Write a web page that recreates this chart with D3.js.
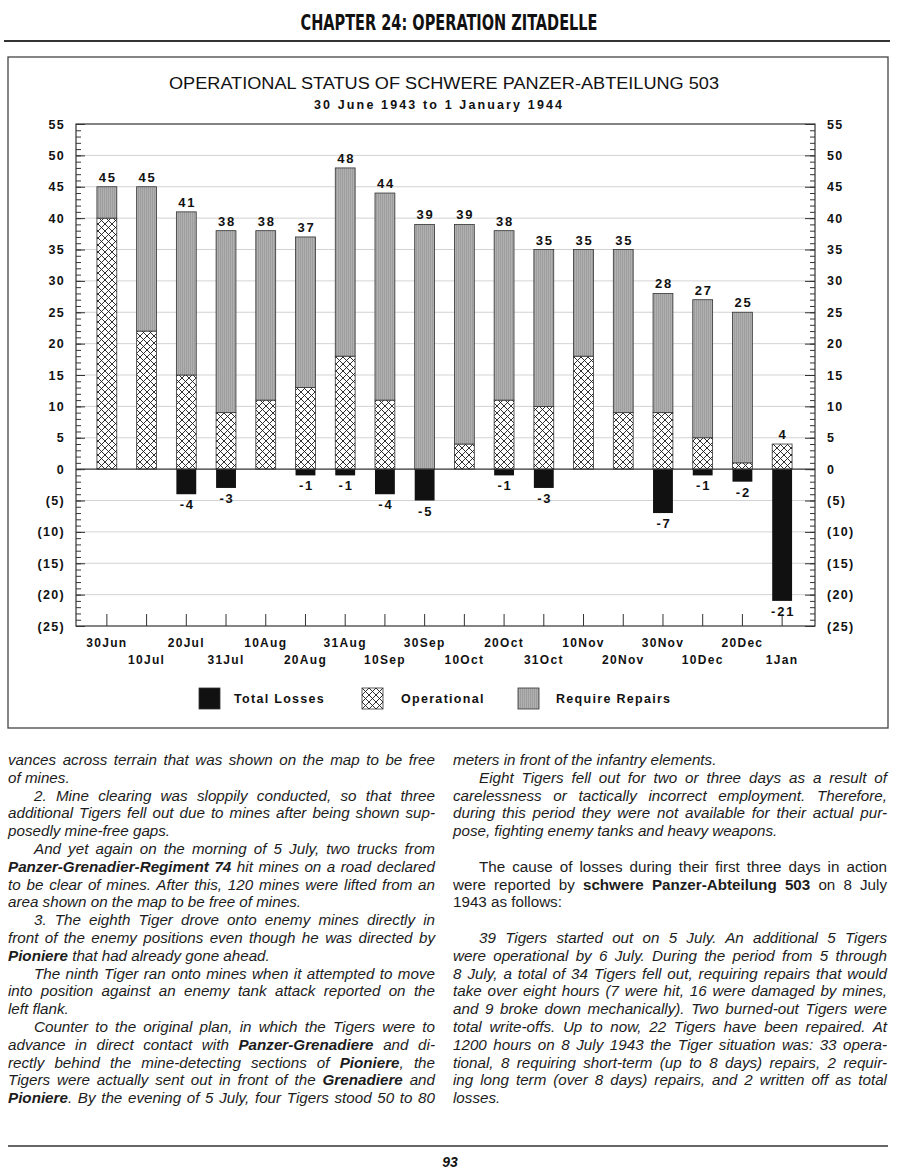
<!DOCTYPE html>
<html>
<head>
<meta charset="utf-8">
<script src="https://cdn.jsdelivr.net/npm/d3@7.9.0/dist/d3.min.js"></script>
<style>
  body { margin: 0; background: #fff; }
  svg { display: block; }
</style>
</head>
<body>
<svg id="page" width="901" height="1176"></svg>
<script>
// Chart data
const dates = ['30Jun', '10Jul', '20Jul', '31Jul', '10Aug', '20Aug', '31Aug', '10Sep', '30Sep',
  '10Oct', '20Oct', '31Oct', '10Nov', '20Nov', '30Nov', '10Dec', '20Dec', '1Jan'];
const operational = [40, 22, 15, 9, 11, 13, 18, 11, 0, 4, 11, 10, 18, 9, 9, 5, 1, 4];
const repairs = [5, 23, 26, 29, 27, 24, 30, 33, 39, 35, 27, 25, 17, 26, 19, 22, 24, 0];
const losses = [0, 0, -4, -3, 0, -1, -1, -4, -5, 0, -1, -3, 0, 0, -7, -1, -2, -21];
const yTicks = [-25, -20, -15, -10, -5, 0, 5, 10, 15, 20, 25, 30, 35, 40, 45, 50, 55];
const legendItems = ['Total Losses', 'Operational', 'Require Repairs'];

const svg = d3.select('#page');
const sans = '"Liberation Sans", Arial, Helvetica, sans-serif';

// Patterns for the fills
const defs = svg.append('defs');
const hatch = defs.append('pattern').attr('id', 'hatch')
  .attr('patternUnits', 'userSpaceOnUse').attr('width', 7).attr('height', 7);
hatch.append('rect').attr('width', 7).attr('height', 7).attr('fill', '#fff');
hatch.append('path').attr('d', 'M0,0L7,7M7,0L0,7M-1,6L1,8M6,-1L8,1')
  .attr('stroke', '#1a1a1a').attr('stroke-width', 0.9);
const grey = defs.append('pattern').attr('id', 'grey')
  .attr('patternUnits', 'userSpaceOnUse').attr('width', 2).attr('height', 2);
grey.append('rect').attr('width', 2).attr('height', 2).attr('fill', '#b0b0b0');
grey.append('rect').attr('width', 1).attr('height', 2).attr('fill', '#9d9d9d');

// Page header
svg.append('text')
  .attr('x', 449).attr('y', 30)
  .attr('text-anchor', 'middle')
  .attr('font-family', '"Liberation Sans Narrow", "DejaVu Sans Condensed", sans-serif')
  .attr('font-weight', 'bold').attr('font-size', 21)
  .attr('textLength', 297).attr('lengthAdjust', 'spacingAndGlyphs')
  .attr('fill', '#111')
  .text('CHAPTER 24: OPERATION ZITADELLE');
svg.append('line').attr('x1', 4).attr('x2', 890).attr('y1', 41).attr('y2', 41)
  .attr('stroke', '#333').attr('stroke-width', 2);

// Chart frame
svg.append('rect').attr('x', 8).attr('y', 57).attr('width', 880).attr('height', 671)
  .attr('fill', 'none').attr('stroke', '#444').attr('stroke-width', 1.3);

svg.append('text')
  .attr('x', 444).attr('y', 89).attr('text-anchor', 'middle')
  .attr('font-family', sans).attr('font-size', 16)
  .attr('textLength', 550).attr('lengthAdjust', 'spacingAndGlyphs')
  .attr('fill', '#111')
  .text('OPERATIONAL STATUS OF SCHWERE PANZER-ABTEILUNG 503');
svg.append('text')
  .attr('x', 438).attr('y', 109).attr('text-anchor', 'middle')
  .attr('font-family', sans).attr('font-size', 12.5).attr('font-weight', 'bold')
  .attr('textLength', 248).attr('lengthAdjust', 'spacing')
  .attr('fill', '#111')
  .text('30 June 1943 to 1 January 1944');

// Scales
const plot = { left: 76, right: 815, top: 124, bottom: 626 };
const y = d3.scaleLinear().domain([-25, 55]).range([plot.bottom, plot.top]);
const x = d3.scaleBand().domain(dates).range([87, 802]).paddingInner(0.5).paddingOuter(0.25);
const fmt = (d) => (d < 0 ? `(${-d})` : `${d}`);

// Gridlines
svg.append('g').selectAll('line')
  .data(yTicks.filter((d) => d > -25 && d < 55 && d !== 0))
  .join('line')
  .attr('x1', plot.left).attr('x2', plot.right)
  .attr('y1', (d) => y(d)).attr('y2', (d) => y(d))
  .attr('stroke', '#c8c8c8').attr('stroke-width', 0.8);

// Plot box
svg.append('rect')
  .attr('x', plot.left).attr('y', plot.top)
  .attr('width', plot.right - plot.left).attr('height', plot.bottom - plot.top)
  .attr('fill', 'none').attr('stroke', '#333').attr('stroke-width', 1.2);

// Axes: minor then major ticks, pointing inward
const minorTicks = d3.range(-25, 56);
function styleAxis(g) {
  g.select('.domain').remove();
  g.selectAll('line').attr('stroke', '#333');
  g.selectAll('text')
    .attr('font-family', sans).attr('font-size', 12.5).attr('font-weight', 'bold')
    .attr('letter-spacing', 1.3).attr('fill', '#111');
}
svg.append('g').attr('transform', `translate(${plot.left},0)`)
  .call(d3.axisLeft(y).tickValues(minorTicks).tickSize(-5).tickFormat(''))
  .call(styleAxis);
svg.append('g').attr('transform', `translate(${plot.left},0)`)
  .call(d3.axisLeft(y).tickValues(yTicks).tickSize(-9).tickPadding(11).tickFormat(fmt))
  .call(styleAxis);
svg.append('g').attr('transform', `translate(${plot.right},0)`)
  .call(d3.axisRight(y).tickValues(minorTicks).tickSize(-5).tickFormat(''))
  .call(styleAxis);
svg.append('g').attr('transform', `translate(${plot.right},0)`)
  .call(d3.axisRight(y).tickValues(yTicks).tickSize(-10).tickPadding(12).tickFormat(fmt))
  .call(styleAxis);

// Bottom ticks and date labels in two staggered rows
svg.append('g').selectAll('line')
  .data(dates).join('line')
  .attr('x1', (d) => x(d) + x.bandwidth() / 2).attr('x2', (d) => x(d) + x.bandwidth() / 2)
  .attr('y1', plot.bottom - 12).attr('y2', plot.bottom)
  .attr('stroke', '#333').attr('stroke-width', 1);
svg.append('g').selectAll('text')
  .data(dates).join('text')
  .attr('x', (d) => x(d) + x.bandwidth() / 2)
  .attr('y', (d, i) => (i % 2 === 0 ? 647 : 664))
  .attr('text-anchor', 'middle')
  .attr('font-family', sans).attr('font-size', 12).attr('font-weight', 'bold')
  .attr('letter-spacing', 1.3).attr('fill', '#111')
  .text((d) => d);

// Stacked bars
const rows = dates.map((d, i) => ({ date: d, operational: operational[i], repairs: repairs[i], loss: losses[i] }));
const stack = d3.stack().keys(['operational', 'repairs'])(rows);
const fills = { operational: 'url(#hatch)', repairs: 'url(#grey)' };

stack.forEach((layer) => {
  svg.append('g').selectAll('rect')
    .data(layer.filter((d) => d[1] > d[0]))
    .join('rect')
    .attr('x', (d) => x(d.data.date))
    .attr('width', x.bandwidth())
    .attr('y', (d) => y(d[1]))
    .attr('height', (d) => y(d[0]) - y(d[1]))
    .attr('fill', fills[layer.key])
    .attr('stroke', '#333').attr('stroke-width', 0.8);
});

svg.append('g').selectAll('rect')
  .data(rows.filter((d) => d.loss < 0))
  .join('rect')
  .attr('x', (d) => x(d.date))
  .attr('width', x.bandwidth())
  .attr('y', y(0))
  .attr('height', (d) => y(d.loss) - y(0))
  .attr('fill', '#111');

// Zero line
svg.append('line')
  .attr('x1', plot.left).attr('x2', plot.right)
  .attr('y1', y(0)).attr('y2', y(0))
  .attr('stroke', '#333').attr('stroke-width', 1.4);

// Value labels
const labelStyle = (sel) => sel
  .attr('text-anchor', 'middle')
  .attr('font-family', sans).attr('font-size', 13).attr('font-weight', 'bold')
  .attr('letter-spacing', 1.8).attr('fill', '#111');

svg.append('g').selectAll('text')
  .data(rows).join('text')
  .attr('x', (d) => x(d.date) + x.bandwidth() / 2 + 1)
  .attr('y', (d) => y(d.operational + d.repairs) - 5)
  .text((d) => d.operational + d.repairs)
  .call(labelStyle);

svg.append('g').selectAll('text')
  .data(rows.filter((d) => d.loss < 0)).join('text')
  .attr('x', (d) => x(d.date) + x.bandwidth() / 2 + 1)
  .attr('y', (d) => y(d.loss) + 15)
  .text((d) => `-${-d.loss}`)
  .call(labelStyle);

// Legend
const legendX = [199, 362, 518];
const legendFill = ['#111', 'url(#hatch)', 'url(#grey)'];
const legend = svg.append('g').selectAll('g')
  .data(legendItems).join('g')
  .attr('transform', (d, i) => `translate(${legendX[i]},688)`);
legend.append('rect')
  .attr('width', 21).attr('height', 21)
  .attr('fill', (d, i) => legendFill[i])
  .attr('stroke', '#333').attr('stroke-width', 0.8);
legend.append('text')
  .attr('x', (d, i) => [35, 39, 38][i]).attr('y', 15)
  .attr('font-family', sans).attr('font-size', 12.5).attr('font-weight', 'bold')
  .attr('letter-spacing', 1.3).attr('fill', '#111')
  .text((d) => d);

// Body text, two justified columns
const leftCol = [
  { row: 0, t: 'vances across terrain that was shown on the map to be free', j: 1 },
  { row: 1, t: 'of mines.' },
  { row: 2, t: '2. Mine clearing was sloppily conducted, so that three', j: 1, ind: 1 },
  { row: 3, t: 'additional Tigers fell out due to mines after being shown sup-', j: 1 },
  { row: 4, t: 'posedly mine-free gaps.' },
  { row: 5, t: 'And yet again on the morning of 5 July, two trucks from', j: 1, ind: 1 },
  { row: 6, t: '*Panzer-Grenadier-Regiment 74* hit mines on a road declared', j: 1 },
  { row: 7, t: 'to be clear of mines. After this, 120 mines were lifted from an', j: 1 },
  { row: 8, t: 'area shown on the map to be free of mines.' },
  { row: 9, t: '3. The eighth Tiger drove onto enemy mines directly in', j: 1, ind: 1 },
  { row: 10, t: 'front of the enemy positions even though he was directed by', j: 1 },
  { row: 11, t: '*Pioniere* that had already gone ahead.' },
  { row: 12, t: 'The ninth Tiger ran onto mines when it attempted to move', j: 1, ind: 1 },
  { row: 13, t: 'into position against an enemy tank attack reported on the', j: 1 },
  { row: 14, t: 'left flank.' },
  { row: 15, t: 'Counter to the original plan, in which the Tigers were to', j: 1, ind: 1 },
  { row: 16, t: 'advance in direct contact with *Panzer-Grenadiere* and di-', j: 1 },
  { row: 17, t: 'rectly behind the mine-detecting sections of *Pioniere*, the', j: 1 },
  { row: 18, t: 'Tigers were actually sent out in front of the *Grenadiere* and', j: 1 },
  { row: 19, t: '*Pioniere*. By the evening of 5 July, four Tigers stood 50 to 80', j: 1 }
];
const rightCol = [
  { row: 0, t: 'meters in front of the infantry elements.' },
  { row: 1, t: 'Eight Tigers fell out for two or three days as a result of', j: 1, ind: 1 },
  { row: 2, t: 'carelessness or tactically incorrect employment. Therefore,', j: 1 },
  { row: 3, t: 'during this period they were not available for their actual pur-', j: 1 },
  { row: 4, t: 'pose, fighting enemy tanks and heavy weapons.' },
  { row: 6, t: 'The cause of losses during their first three days in action', j: 1, ind: 1, up: 1 },
  { row: 7, t: 'were reported by *schwere Panzer-Abteilung 503* on 8 July', j: 1, up: 1 },
  { row: 8, t: '1943 as follows:', up: 1 },
  { row: 10, t: '39 Tigers started out on 5 July. An additional 5 Tigers', j: 1, ind: 1 },
  { row: 11, t: 'were operational by 6 July. During the period from 5 through', j: 1 },
  { row: 12, t: '8 July, a total of 34 Tigers fell out, requiring repairs that would', j: 1 },
  { row: 13, t: 'take over eight hours (7 were hit, 16 were damaged by mines,', j: 1 },
  { row: 14, t: 'and 9 broke down mechanically). Two burned-out Tigers were', j: 1 },
  { row: 15, t: 'total write-offs. Up to now, 22 Tigers have been repaired. At', j: 1 },
  { row: 16, t: '1200 hours on 8 July 1943 the Tiger situation was: 33 opera-', j: 1 },
  { row: 17, t: 'tional, 8 requiring short-term (up to 8 days) repairs, 2 requir-', j: 1 },
  { row: 18, t: 'ing long term (over 8 days) repairs, and 2 written off as total', j: 1 },
  { row: 19, t: 'losses.' }
];

function drawColumn(lines, x0, width) {
  const indent = 26;
  lines.forEach((ln) => {
    const left = x0 + (ln.ind ? indent : 0);
    const target = width - (ln.ind ? indent : 0);
    const text = svg.append('text')
      .attr('x', left).attr('y', 765 + ln.row * 17.8)
      .attr('font-family', sans).attr('font-size', 15.2)
      .attr('font-style', ln.up ? 'normal' : 'italic')
      .attr('fill', '#1c1c1c')
      .attr('xml:space', 'preserve');
    ln.t.split('*').forEach((part, k) => {
      if (!part) return;
      text.append('tspan').attr('font-weight', k % 2 ? 'bold' : 'normal').text(part);
    });
    if (ln.j) {
      const natural = text.node().getComputedTextLength();
      const spaces = (ln.t.match(/ /g) || []).length;
      if (spaces) text.attr('word-spacing', (target - natural) / spaces);
    }
  });
}
drawColumn(leftCol, 8, 427);
drawColumn(rightCol, 453, 434);

// Bottom rule and folio
svg.append('line').attr('x1', 8).attr('x2', 888).attr('y1', 1146).attr('y2', 1146)
  .attr('stroke', '#333').attr('stroke-width', 1.6);
svg.append('text')
  .attr('x', 450).attr('y', 1167).attr('text-anchor', 'middle')
  .attr('font-family', sans).attr('font-size', 14)
  .attr('font-weight', 'bold').attr('font-style', 'italic').attr('fill', '#111')
  .text('93');
</script>
</body>
</html>
